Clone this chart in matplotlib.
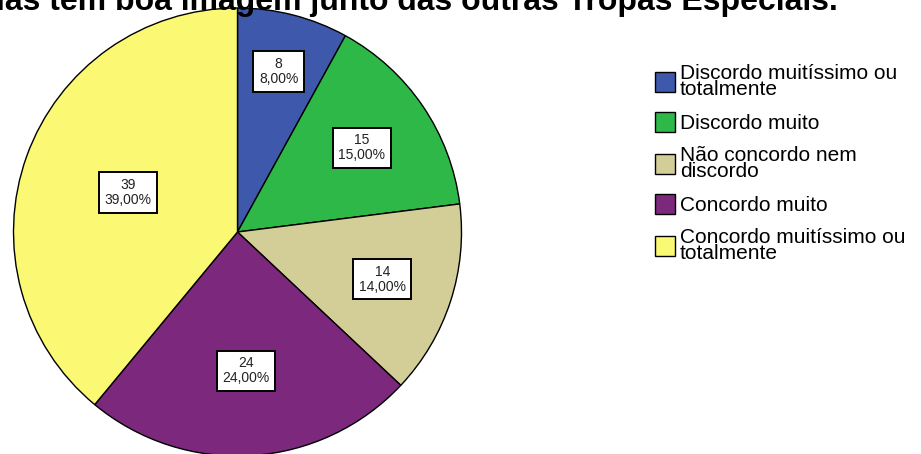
import numpy as np
import matplotlib
matplotlib.use("Agg")
import matplotlib.pyplot as plt

# Dados do gráfico (contagens por categoria)
categorias = [
    "Discordo muitíssimo ou\ntotalmente",
    "Discordo muito",
    "Não concordo nem\ndiscordo",
    "Concordo muito",
    "Concordo muitíssimo ou\ntotalmente",
]
contagens = [8, 15, 14, 24, 39]
cores = ["#3e58ac", "#2eb848", "#d3ce97", "#7c287d", "#fbf873"]
# distância relativa de cada rótulo ao centro
dist_rotulos = [0.74, 0.67, 0.68, 0.62, 0.52]
titulo = "ias têm boa imagem junto das outras Tropas Especiais."

plt.rcParams['font.family'] = ['Liberation Sans', 'DejaVu Sans']

W, H = 921, 454
fig = plt.figure(figsize=(W / 100, H / 100), dpi=100)

# eixo do gráfico de setores: centro (237.5, 232) px, raio 224 px
cx, cy, r = 237.5, 232, 224
ax = fig.add_axes([(cx - r) / W, 1 - (cy + r) / H, 2 * r / W, 2 * r / H])

total = sum(contagens)
wedges, _ = ax.pie(contagens, colors=cores, startangle=90, counterclock=False,
                   radius=1, wedgeprops=dict(edgecolor='black', linewidth=1.0),
                   frame=True)
ax.set_xlim(-1, 1)
ax.set_ylim(-1, 1)
ax.set_aspect('equal')
ax.axis('off')

for w, n, d in zip(wedges, contagens, dist_rotulos):
    ang = np.deg2rad((w.theta1 + w.theta2) / 2)
    pct = f"{100 * n / total:.2f}".replace('.', ',') + "%"
    ax.text(d * np.cos(ang), d * np.sin(ang), f"{n}\n{pct}",
            ha='center', va='center', fontsize=10, linespacing=1.1,
            color='#222222',
            bbox=dict(boxstyle='square,pad=0.4', facecolor='white',
                      edgecolor='black', linewidth=1.4))

# título (cortado no topo, como no original)
fig.text(838 / W, 1 - 10 / H, titulo, ha='right', va='baseline',
         fontsize=23, fontweight='bold', color='black')

# legenda
leg = fig.legend(wedges, categorias, loc='upper left',
                 bbox_to_anchor=(655 / W, 1 - 64 / H), frameon=False,
                 fontsize=15, handlelength=0.95, handleheight=1.1,
                 handletextpad=0.25, labelspacing=0.62, borderpad=0,
                 borderaxespad=0)
for t in leg.get_texts():
    t.set_linespacing(0.8)

fig.savefig("out.png", dpi=100)
